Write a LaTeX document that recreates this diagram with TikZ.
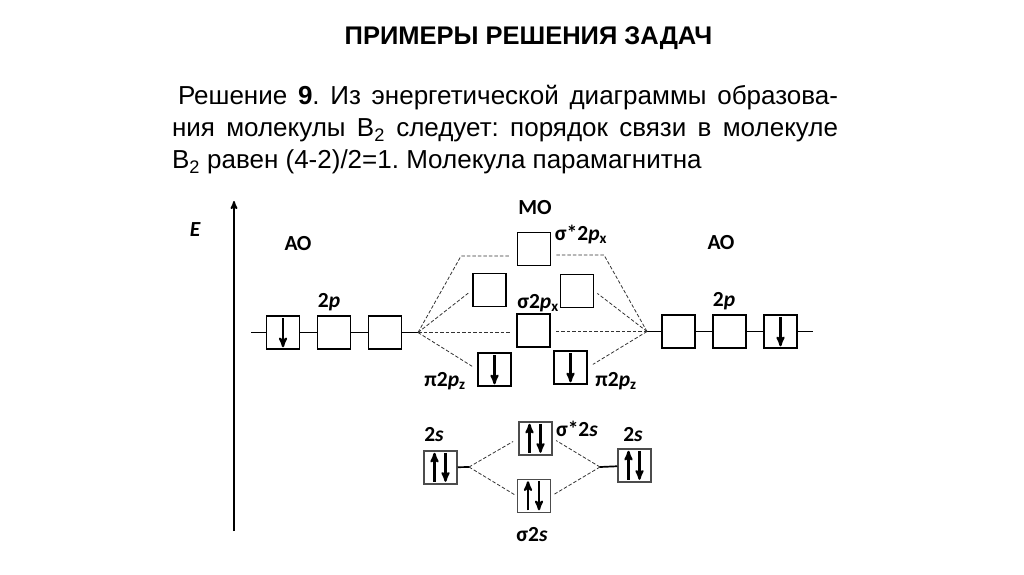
\documentclass[tikz,border=0pt]{standalone}
\usepackage{fontspec}
\setmainfont{Liberation Sans}
\newfontfamily\lblfont{Carlito}
\usetikzlibrary{shapes,arrows,positioning}

\begin{document}
\begin{tikzpicture}[
    x=1pt,
    y=-1pt,
    node distance=51pt,
    >=stealth',
    every node/.style={align=center}
]

% Define styles
\tikzstyle{orb} = [rectangle, draw, line width=1.5pt, minimum size=33pt, inner sep=0pt]
\tikzstyle{orbs} = [orb, draw=black!70]
\tikzstyle{lbl} = [font=\lblfont\fontsize{21.5}{24}\selectfont\bfseries, inner sep=0pt]
\tikzstyle{level} = [draw, line width=1.7pt]
\tikzstyle{split} = [draw, dash pattern=on 3.5pt off 2pt, line width=0.8pt, black!80]
\tikzstyle{spin} = [draw, ->, line width=2.2pt]

\useasboundingbox (0,0) rectangle (1024,574);

% Heading and text
\node [font=\fontsize{25.5}{28}\selectfont\bfseries, inner sep=0pt] (title) at (528.5,38) {ПРИМЕРЫ РЕШЕНИЯ ЗАДАЧ};
\node [font=\fontsize{26}{32}\selectfont, text width=666pt, align=justify, inner sep=0pt] (body) at (505,130)
    {\frenchspacing\hspace*{6pt}Решение \textbf{9}. Из энергетической диаграммы образова-\linebreak
    ния молекулы В\textsubscript{2} следует: порядок связи в молекуле\linebreak
    В\textsubscript{2} равен (4-2)/2=1. Молекула парамагнитна};

% Energy axis
\coordinate (axisb) at (234,531);
\coordinate (axist) at (234,201);
\draw [level, ->] (axisb) -- (axist);
\node [lbl] (ene) at (195,230) {\itshape E};

% Left AO
\node [orb] (ala) at (283,332.5) {};
\node [orb, right of=ala] (alb) {};
\node [orb, right of=alb] (alc) {};
\coordinate (alin) at (251,332.5);
\coordinate (hubl) at (418,332.5);
\draw [level] (alin) -- (ala) -- (alb) -- (alc) -- (hubl);

% Right AO
\node [orb] (ara) at (678.5,331.5) {};
\node [orb, right of=ara] (arb) {};
\node [orb, right of=arb] (arc) {};
\coordinate (arout) at (813,331.5);
\coordinate (hubr) at (647,331.5);
\draw [level] (hubr) -- (ara) -- (arb) -- (arc) -- (arout);

% MO 2p
\node [orb] (sxa) at (534,249) {};
\node [orb] (pyl) at (489.5,290) {};
\node [orb] (pyr) at (577,291) {};
\node [orb] (sxb) at (533.5,330.5) {};
\node [orb] (pzl) at (494.5,369.5) {};
\node [orb] (pzr) at (570.5,367.5) {};
\coordinate (bendl) at (461,256);
\coordinate (bendr) at (604,255);

\path [split, shorten >=8pt] (hubl) -- (bendl) -- (sxa.west |- bendl);
\path [split, shorten >=5pt] (hubl) -- (pyl.west);
\path [split, shorten >=6pt] (hubl) -- (sxb.west |- hubl);
\path [split, shorten >=6pt] (hubl) -- (pzl.west);
\path [split, shorten >=5pt] (hubr) -- (bendr) -- (sxa.east |- bendr);
\path [split, shorten >=4pt] (hubr) -- (pyr.east);
\path [split, shorten >=3pt] (hubr) -- (sxb.east |- hubr);
\path [split, shorten >=6pt] (hubr) -- (pzr.east);

% 2s
\node [orbs] (sl) at (440.5,467.5) {};
\node [orbs] (sr) at (634.5,465.5) {};
\node [orbs] (ssa) at (535.5,438.5) {};
\node [orbs] (ssb) at (534,496) {};
\coordinate (hubsl) at (469,467);
\coordinate (hubsr) at (600,467);
\draw [level] (sl) -- (hubsl);
\draw [level] (hubsr) -- (sr);
\path [split, shorten >=6pt] (hubsl) -- (ssa.west);
\path [split, shorten >=2pt] (hubsl) -- (ssb.west);
\path [split, shorten >=4pt] (hubsr) -- (ssa.east);
\path [split, shorten >=3pt] (hubsr) -- (ssb.east);

% Electrons
\foreach \b in {ala,arc,pzl,pzr}
    \path [spin] ([yshift=-3pt]\b.north) -- ([yshift=2.5pt]\b.south);
\foreach \b in {sl,sr,ssa,ssb} {
    \path [spin] ([xshift=-6pt,yshift=3pt]\b.south) -- ([xshift=-6pt,yshift=-2.5pt]\b.north);
    \path [spin] ([xshift=5pt,yshift=-2.5pt]\b.north) -- ([xshift=5pt,yshift=3pt]\b.south);
}

% Labels
\node [lbl] (aol) at (298,244) {АО};
\node [lbl] (aor) at (721,243) {АО};
\node [lbl] (mo) at (535,208) {МО};
\node [lbl] (pl) at (329,302) {2\textit{p}};
\node [lbl] (pr) at (724,301) {2\textit{p}};
\node [lbl] (lsxa) at (581,234) {σ*2\textit{p}\textsubscript{x}};
\node [lbl] (lsxb) at (538,303) {σ2\textit{p}\textsubscript{x}};
\node [lbl] (lpzl) at (445,381) {π2\textit{p}\textsubscript{z}};
\node [lbl] (lpzr) at (616,381) {π2\textit{p}\textsubscript{z}};
\node [lbl] (lsl) at (434,435) {2\textit{s}};
\node [lbl] (lsr) at (633,435) {2\textit{s}};
\node [lbl] (lssa) at (577,429) {σ*2\textit{s}};
\node [lbl] (lssb) at (532,535) {σ2\textit{s}};

\end{tikzpicture}
\end{document}
